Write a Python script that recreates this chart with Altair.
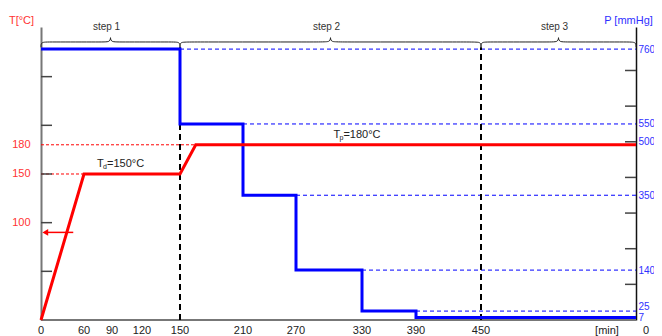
import altair as alt
import pandas as pd
import numpy as np

# ---------------- data ----------------
X_TICKS = [0, 60, 90, 120, 150, 210, 270, 330, 390, 450]
T_LABELS = [100, 150, 180]
T_MINOR = [50, 100, 150, 200, 250]
P_LABELS = [760, 550, 500, 350, 140, 25, 7]
P_MINOR = [100, 200, 300, 400, 500, 600, 700]

temp_time = [0, 60, 150, 165, 610]
temp_val = [0, 150, 150, 180, 180]

press_time = [0, 150, 150, 210, 210, 270, 270, 330, 330, 390, 390, 610]
press_val = [760, 760, 550, 550, 350, 350, 140, 140, 25, 25, 7, 7]

level_start = [150, 210, 270, 330, 390]
level_val = [760, 550, 350, 140, 25]

ref_temp = [150, 180]
ref_temp_end = [60, 165]

steps = ["step 1", "step 2", "step 3"]
step_start = [0, 150, 450]
step_end = [150, 450, 610]
phase_lines = [150, 450]

arrow_T = 90
arrow_from = 45
arrow_to = 6
END = 610

td_time, td_T = 74, 160
tp_time, tp_T = 304, 190

# ---------------- styling / scales ----------------
FONT = "Liberation Sans, Arial, sans-serif"
RED = "#ff0000"
BLUE = "#0000ff"
RED_TXT = "#ff3333"
BLUE_TXT = "#3030ff"
GREY = "#777777"
INK = "#222222"
W, H = 595, 293

X_DOMAIN = [0, 60, 90, 120, 150, 210, 270, 330, 390, 450, 610]
X_RANGE = [0, 43, 71, 101, 139, 202, 255, 321, 375, 440, W]
xscale = alt.Scale(domain=X_DOMAIN, range=X_RANGE, nice=False, zero=False)
tscale = alt.Scale(domain=[0, 301], nice=False, zero=False)
pscale = alt.Scale(domain=[0, 822], nice=False, zero=False)

taxis = alt.Axis(orient="left", values=T_LABELS, ticks=False, grid=False,
                 domainColor=GREY, domainWidth=2, labelColor=RED_TXT,
                 labelFontSize=11, labelFont=FONT, labelPadding=11, labelFlush=False,
                 labelOverlap=False, title="T[°C]", titleAngle=0, titleX=-20, titleY=-7,
                 titleAlign="center", titleBaseline="middle", titleColor=RED_TXT,
                 titleFontWeight="normal", titleFontSize=11, titleFont=FONT)
paxis = alt.Axis(orient="right", values=P_LABELS, ticks=False, grid=False,
                 domainColor="#111111", domainWidth=1.5, labelColor=BLUE_TXT,
                 labelFontSize=10, labelFont=FONT, labelPadding=2, labelFlush=False,
                 labelOverlap=False,
                 labelBaseline={"condition": {"test": "datum.value === 25",
                                              "value": "bottom"},
                                "value": "middle"},
                 title="P [mmHg]", titleAngle=0, titleX=-8,
                 titleY=-7, titleAlign="center", titleBaseline="middle",
                 titleColor=BLUE_TXT, titleFontWeight="normal", titleFontSize=11,
                 titleFont=FONT)


def X(field="t"):
    return alt.X(f"{field}:Q", scale=xscale, axis=None)


def YT(field="T", axis=None):
    return alt.Y(f"{field}:Q", scale=tscale, axis=axis)


def YP(field="P", axis=None):
    return alt.Y(f"{field}:Q", scale=pscale, axis=axis)


layers = []

# ---------------- x axis drawn from the tick list ----------------
xdom_df = pd.DataFrame({"t": [0], "t2": [END]})
layers.append(alt.Chart(xdom_df).mark_rule(color=GREY, strokeWidth=2).encode(
    x=X("t"), x2="t2:Q", y=alt.value(H)))
xlab_df = pd.DataFrame({"t": X_TICKS, "lab": [str(v) for v in X_TICKS]})
layers.append(alt.Chart(xlab_df).mark_text(fontSize=11, font=FONT, color=INK,
                                           baseline="middle", dy=11).encode(
    x=X("t"), y=alt.value(H), text="lab:N"))
layers.append(alt.Chart(pd.DataFrame({"lab": ["[min]"]})).mark_text(
    fontSize=11, font=FONT, color=INK, baseline="middle").encode(
    x=alt.value(566), y=alt.value(H + 11), text="lab:N"))

# ---------------- pressure layers ----------------
lvl_df = pd.DataFrame({"t": level_start, "t2": [END] * len(level_start), "P": level_val})
layers.append(alt.Chart(lvl_df).mark_rule(color=BLUE, strokeWidth=1, strokeDash=[4, 3]).encode(
    x=X("t"), x2="t2:Q", y=YP()))

p_tick_df = pd.DataFrame({"P": P_MINOR})
layers.append(alt.Chart(p_tick_df).mark_rule(color="#444444", strokeWidth=1.5).encode(
    x=alt.value(W - 11), x2=alt.value(W), y=YP()))

BR_BASE, BR_MID, BR_TIP = 765, 780, 798
phase_df = pd.DataFrame({"t": phase_lines, "P": [0] * len(phase_lines),
                         "P2": [BR_BASE] * len(phase_lines)})
layers.append(alt.Chart(phase_df).mark_rule(color="#000000", strokeWidth=2,
                                            strokeDash=[6, 4]).encode(
    x=X("t"), y=YP(), y2="P2:Q"))


def to_px(m):
    return float(np.interp(m, X_DOMAIN, X_RANGE))


def to_min(p):
    return float(np.interp(p, X_RANGE, X_DOMAIN))


rows = []
centers = []
for name, a, b in zip(steps, step_start, step_end):
    pa, pb = to_px(a), to_px(b)
    pc = (pa + pb) / 2
    r = 7
    pts = [(pa, BR_BASE), (pa, BR_MID), (pa + r, BR_MID), (pc - r, BR_MID), (pc, BR_MID),
           (pc, BR_TIP), (pc, BR_MID), (pc + r, BR_MID), (pb - r, BR_MID), (pb, BR_MID),
           (pb, BR_BASE)]
    for k, (px, pv) in enumerate(pts):
        rows.append({"step": name, "t": to_min(px), "P": pv, "k": k})
    centers.append(to_min(pc))
brace_df = pd.DataFrame(rows)
layers.append(alt.Chart(brace_df).mark_line(color=INK, strokeWidth=1,
                                            interpolate="basis").encode(
    x=X("t"), y=YP(), detail="step:N", order="k:Q"))

step_df = pd.DataFrame({"step": steps, "t": centers, "P": [822] * len(steps)})
layers.append(alt.Chart(step_df).mark_text(fontSize=10, font=FONT, color="#333333",
                                           baseline="middle", dx=-4).encode(
    x=X("t"), y=YP(), text="step:N"))

zero_df = pd.DataFrame({"t": [END], "P": [0], "lab": ["0"]})
layers.append(alt.Chart(zero_df).mark_text(fontSize=11, font=FONT, color=INK,
                                           baseline="middle", dx=10, dy=11).encode(
    x=X("t"), y=YP(), text="lab:N"))

press_df = pd.DataFrame({"t": press_time, "P": press_val, "i": range(len(press_time))})
layers.append(alt.Chart(press_df).mark_line(color=BLUE, strokeWidth=3).encode(
    x=X("t"), y=YP("P", paxis), order="i:Q"))

# ---------------- temperature layers ----------------
red_ref_df = pd.DataFrame({"t": [0] * len(ref_temp), "t2": ref_temp_end, "T": ref_temp})
layers.append(alt.Chart(red_ref_df).mark_rule(color=RED, strokeWidth=1,
                                              strokeDash=[3, 2]).encode(
    x=X("t"), x2="t2:Q", y=YT()))

t_tick_df = pd.DataFrame({"T": T_MINOR})
layers.append(alt.Chart(t_tick_df).mark_rule(color="#444444", strokeWidth=1.5).encode(
    x=alt.value(0), x2=alt.value(11), y=YT()))

arrow_df = pd.DataFrame({"t": [arrow_to], "t2": [arrow_from], "T": [arrow_T]})
layers.append(alt.Chart(arrow_df).mark_rule(color=RED, strokeWidth=1.5).encode(
    x=X("t"), x2="t2:Q", y=YT()))
layers.append(alt.Chart(arrow_df).mark_point(shape="triangle-left", filled=True, size=45,
                                             color=RED, opacity=1).encode(
    x=X("t"), y=YT()))


def sub_text(t, T, main, sub, rest):
    d = pd.DataFrame({"t": [t], "T": [T]})
    base = alt.Chart(d)
    a = base.mark_text(text=main, align="left", baseline="middle", fontSize=11,
                       font=FONT, color=INK).encode(x=X("t"), y=YT())
    b = base.mark_text(text=sub, align="left", baseline="middle", fontSize=7,
                       font=FONT, color=INK, dx=6, dy=3).encode(x=X("t"), y=YT())
    c = base.mark_text(text=rest, align="left", baseline="middle", fontSize=11,
                       font=FONT, color=INK, dx=10).encode(x=X("t"), y=YT())
    return [a, b, c]


layers += sub_text(td_time, td_T, "T", "d", "=150°C")
layers += sub_text(tp_time, tp_T, "T", "p", "=180°C")

temp_df = pd.DataFrame({"t": temp_time, "T": temp_val})
layers.append(alt.Chart(temp_df).mark_line(color=RED, strokeWidth=3).encode(
    x=X("t"), y=YT("T", taxis)))

chart = alt.layer(*layers).resolve_scale(y="independent").properties(
    width=W, height=H,
    autosize=alt.AutoSizeParams(type="none"),
    padding={"left": 33, "top": 19, "right": 646 - 33 - W, "bottom": 16},
).configure_view(stroke=None)

chart.save("out.html", embed_options={"renderer": "svg", "actions": False})
